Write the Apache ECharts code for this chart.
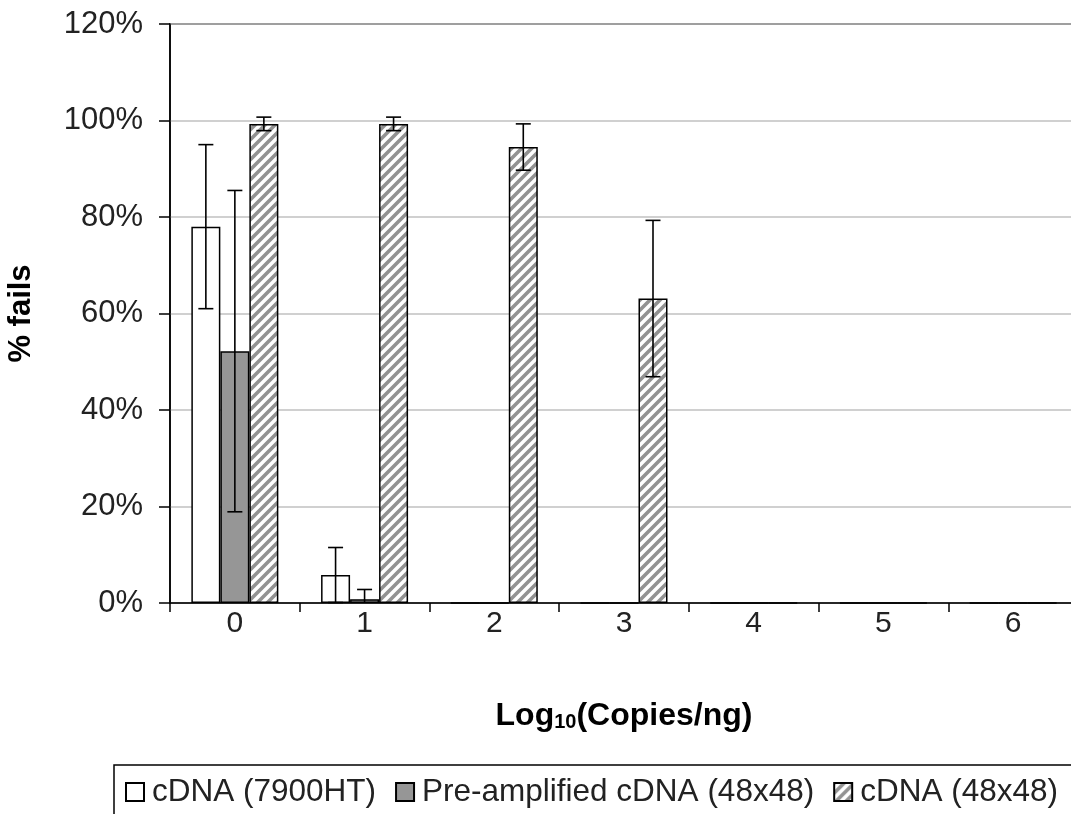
<!DOCTYPE html>
<html>
<head>
<meta charset="utf-8">
<script src="https://cdn.jsdelivr.net/npm/echarts@6/dist/echarts.min.js"></script>
<style>
html,body{margin:0;padding:0;background:#fff;}
#chart{width:1071px;height:814px;}
</style>
</head>
<body>
<div id="chart"></div>
<script>
// ---- data ----
const categories = ['0', '1', '2', '3', '4', '5', '6'];
const seriesNames = ['cDNA (7900HT)', 'Pre-amplified cDNA (48x48)', 'cDNA (48x48)'];
const cdna7900 = [78, 5.8, 0, 0, 0, 0, 0];
const cdna7900Err = [17, 5.7, 0, 0, 0, 0, 0];
const preAmp = [52.2, 0.8, 0, 0, 0, 0, 0];
const preAmpErr = [33.3, 2.0, 0, 0, 0, 0, 0];
const cdna48 = [99.3, 99.3, 94.5, 63.1, 0, 0, 0];
const cdna48Err = [1.4, 1.4, 4.8, 16.2, 0, 0, 0];
const yTicks = [0, 20, 40, 60, 80, 100, 120];

// ---- hatch pattern ----
function makeHatch() {
  const c = document.createElement('canvas');
  c.width = 10; c.height = 10;
  const ctx = c.getContext('2d');
  ctx.fillStyle = '#ffffff';
  ctx.fillRect(0, 0, 10, 10);
  ctx.strokeStyle = '#929292';
  ctx.lineWidth = 3.6;
  ctx.beginPath();
  ctx.moveTo(-5, 5); ctx.lineTo(5, -5);
  ctx.moveTo(0, 10); ctx.lineTo(10, 0);
  ctx.moveTo(5, 15); ctx.lineTo(15, 5);
  ctx.stroke();
  return c;
}
const hatch = { image: makeHatch(), repeat: 'repeat' };

const BAR_W = 29;
const FONT = '"Liberation Sans", Arial, sans-serif';

function errSeries(vals, errs, idx) {
  return {
    type: 'custom',
    z: 10,
    silent: true,
    data: vals.map((v, i) => [i, v, errs[i]]),
    encode: { x: 0, y: 1 },
    renderItem: function (params, api) {
      const i = api.value(0), v = api.value(1), e = api.value(2);
      if (!e) return null;
      const off = (idx - 1) * BAR_W;
      const top = api.coord([i, v + e]);
      const loVal = v - e;
      const bot = api.coord([i, Math.max(loVal, 0)]);
      const x = top[0] + off;
      const st = { stroke: '#000', lineWidth: 1.6 };
      const ch = [
        { type: 'line', shape: { x1: x, y1: top[1], x2: x, y2: bot[1] }, style: st },
        { type: 'line', shape: { x1: x - 7.5, y1: top[1], x2: x + 7.5, y2: top[1] }, style: st }
      ];
      if (loVal > 0) {
        ch.push({ type: 'line', shape: { x1: x - 7.5, y1: bot[1], x2: x + 7.5, y2: bot[1] }, style: st });
      }
      return { type: 'group', children: ch };
    }
  };
}

const chart = echarts.init(document.getElementById('chart'), null, { renderer: 'canvas' });
chart.setOption({
  animation: false,
  backgroundColor: '#fff',
  textStyle: { fontFamily: FONT },
  grid: {
    left: 170, top: 24, right: -7, bottom: 211,
    outerBoundsMode: 'none',
    containLabel: false,
    show: true, borderColor: '#000', borderWidth: 1.5, backgroundColor: 'transparent'
  },
  legend: {
    data: seriesNames,
    left: 114, top: 765,
    width: 960,
    orient: 'horizontal',
    padding: [11, 30, 30, 11],
    borderColor: '#000', borderWidth: 1.5,
    itemWidth: 18, itemHeight: 18,
    itemGap: 19,
    textStyle: { fontFamily: FONT, fontSize: 31.5, color: '#222', padding: [0, 0, 0, 3] },
    icon: 'rect'
  },
  xAxis: {
    type: 'category',
    data: categories,
    axisLine: { lineStyle: { color: '#000', width: 1.5 } },
    axisTick: { show: true, length: 9, lineStyle: { color: '#000', width: 1.5 } },
    axisLabel: { fontFamily: FONT, fontSize: 30, color: '#222', margin: 6 },
    name: '{a|Log}{b|10}{a|(Copies/ng)}',
    nameLocation: 'middle',
    nameGap: 97,
    nameTextStyle: {
      rich: {
        a: { fontFamily: FONT, fontSize: 32, fontWeight: 'bold', color: '#000' },
        b: { fontFamily: FONT, fontSize: 20, fontWeight: 'bold', color: '#000', padding: [12, 0, 0, 0] }
      }
    }
  },
  yAxis: {
    type: 'value',
    min: 0, max: 120, interval: 20,
    axisLine: { show: true, lineStyle: { color: '#000', width: 1.5 } },
    axisTick: { show: true, length: 11, lineStyle: { color: '#000', width: 1.5 } },
    axisLabel: {
      fontFamily: FONT, fontSize: 31, color: '#222', margin: 27,
      formatter: function (v) { return yTicks.indexOf(v) >= 0 ? v + '%' : ''; }
    },
    splitLine: { show: true, lineStyle: { color: '#c0c0c0', width: 1.5 } },
    name: '% fails',
    nameLocation: 'middle',
    nameRotate: 90,
    nameGap: 133,
    nameTextStyle: { fontFamily: FONT, fontSize: 31, fontWeight: 'bold', color: '#000' }
  },
  series: [
    {
      name: seriesNames[0], type: 'bar', data: cdna7900, barWidth: BAR_W, barGap: '0%',
      itemStyle: { color: '#ffffff', borderColor: '#000', borderWidth: 1.5 }
    },
    {
      name: seriesNames[1], type: 'bar', data: preAmp, barWidth: BAR_W, barGap: '0%',
      itemStyle: { color: '#969696', borderColor: '#000', borderWidth: 1.5 }
    },
    {
      name: seriesNames[2], type: 'bar', data: cdna48, barWidth: BAR_W, barGap: '0%',
      itemStyle: { color: hatch, borderColor: '#000', borderWidth: 1.5 }
    },
    errSeries(cdna7900, cdna7900Err, 0),
    errSeries(preAmp, preAmpErr, 1),
    errSeries(cdna48, cdna48Err, 2)
  ]
});
</script>
</body>
</html>
